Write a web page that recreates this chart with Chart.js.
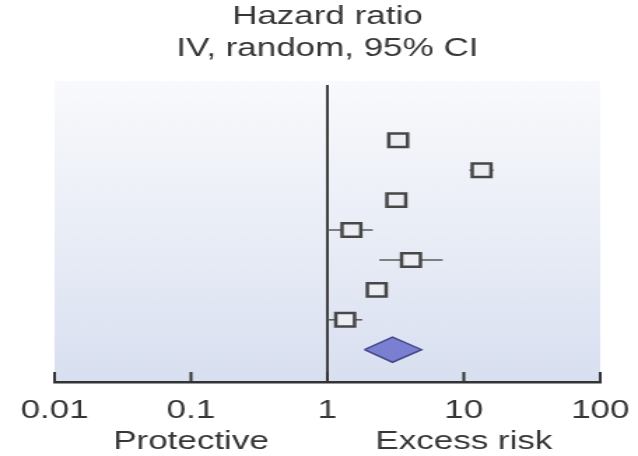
<!DOCTYPE html>
<html>
<head>
<meta charset="utf-8">
<title>Hazard ratio forest plot</title>
<script src="https://cdn.jsdelivr.net/npm/chart.js@4/dist/chart.umd.min.js"></script>
<style>
  html, body { margin: 0; padding: 0; background: #ffffff; }
</style>
</head>
<body>
<!-- drawn square, shown wide -->
<canvas id="forest" width="456" height="456" style="display:block;width:638px;height:456px"></canvas>
<script>
// Study rows, top to bottom
const studyRows = [1, 2, 3, 4, 5, 6, 7];
const hazardRatio = [3.3, 13.5, 3.2, 1.5, 4.1, 2.3, 1.35];
const ciLower = [3.0, 11.0, 2.9, 1.0, 2.4, 2.1, 1.0];
const ciUpper = [3.6, 16.5, 3.5, 2.15, 7.0, 2.5, 1.8];

// Pooled estimate (random effects)
const pooledRow = 8;
const pooledHR = 3.0;
const pooledLower = 1.87;
const pooledUpper = 4.9;

const tickValues = [0.01, 0.1, 1, 10, 100];
const tickLabels = ["0.01", "0.1", "1", "10", "100"];
const titleLines = ["Hazard ratio", "IV, random, 95% CI"];
const sideLabels = [
  { text: "Protective", at: 0.1 },
  { text: "Excess risk", at: 10 }
];

const FONT = "'Liberation Sans', Arial, sans-serif";
const TEXT = "#363636";
const DIAMOND_HALF = 0.42; // in row units

// one short line per study for its confidence interval
const whiskerSets = studyRows.map((row, i) => ({
  type: "line",
  data: [{ x: ciLower[i], y: row }, { x: ciUpper[i], y: row }],
  borderColor: "#5a5a5a",
  borderWidth: 1.5,
  pointRadius: 0,
  order: 3
}));

const pooledSet = {
  type: "line",
  data: [
    { x: pooledLower, y: pooledRow },
    { x: pooledHR, y: pooledRow - DIAMOND_HALF },
    { x: pooledUpper, y: pooledRow },
    { x: pooledHR, y: pooledRow + DIAMOND_HALF },
    { x: pooledLower, y: pooledRow }
  ],
  borderColor: "#454a8a",
  borderWidth: 1.5,
  backgroundColor: "#7a7fd2",
  fill: "shape",
  tension: 0,
  pointRadius: 0,
  order: 1
};

const pointSet = {
  type: "scatter",
  data: studyRows.map((row, i) => ({ x: hazardRatio[i], y: row })),
  pointStyle: "rect",
  pointRadius: 9.5,
  borderWidth: 2.5,
  borderColor: "#474747",
  backgroundColor: "#eceef3",
  order: 0
};

// light blue wash behind the plot + upward tick marks
const plotDecor = {
  id: "plotDecor",
  beforeDraw(chart) {
    const { ctx, chartArea: a } = chart;
    const g = ctx.createLinearGradient(0, a.top, 0, a.bottom);
    g.addColorStop(0, "#f8f9fc");
    g.addColorStop(0.5, "#e9edf6");
    g.addColorStop(1, "#d8dff0");
    ctx.save();
    ctx.fillStyle = g;
    ctx.fillRect(a.left, a.top - 4, a.right - a.left, a.bottom - a.top + 4);
    ctx.restore();
  },
  afterDraw(chart) {
    const { ctx, chartArea: a, scales } = chart;
    const x = scales.x;
    ctx.save();
    ctx.strokeStyle = "#333333";
    ctx.lineWidth = 2;
    tickValues.forEach(v => {
      const px = x.getPixelForValue(v);
      ctx.beginPath();
      ctx.moveTo(px, a.bottom);
      ctx.lineTo(px, a.bottom - 10);
      ctx.stroke();
    });
    ctx.fillStyle = TEXT;
    ctx.font = "25px " + FONT;
    ctx.textAlign = "center";
    ctx.textBaseline = "middle";
    sideLabels.forEach(s => {
      ctx.fillText(s.text, x.getPixelForValue(s.at), 442);
    });
    ctx.restore();
  }
};

new Chart(document.getElementById("forest"), {
  type: "scatter",
  data: { datasets: [pointSet, pooledSet, ...whiskerSets] },
  plugins: [plotDecor],
  options: {
    responsive: false,
    devicePixelRatio: 1,
    animation: false,
    layout: { padding: { left: 39, right: 27, top: 0, bottom: 30 } },
    plugins: {
      legend: { display: false },
      tooltip: { enabled: false },
      title: {
        display: true,
        text: titleLines,
        color: TEXT,
        font: { family: FONT, size: 25, weight: "normal", lineHeight: 1.28 },
        padding: { top: 1, bottom: 20 }
      }
    },
    scales: {
      x: {
        type: "logarithmic",
        min: 0.01,
        max: 100,
        afterBuildTicks: scale => {
          scale.ticks = tickValues.map(v => ({ value: v }));
        },
        ticks: {
          autoSkip: false,
          maxRotation: 0,
          padding: 0,
          color: TEXT,
          font: { family: FONT, size: 25 },
          callback: (value, idx) => tickLabels[idx]
        },
        grid: {
          drawTicks: true,
          tickLength: 14,
          tickColor: "rgba(0,0,0,0)",
          lineWidth: 2,
          color: ctx => (ctx.tick && ctx.tick.value === 1 ? "#404040" : "rgba(0,0,0,0)")
        },
        border: { display: true, color: "#333333", width: 2.5 }
      },
      y: {
        display: false,
        reverse: true,
        min: -0.85,
        max: 9.08
      }
    }
  }
});
</script>
</body>
</html>
